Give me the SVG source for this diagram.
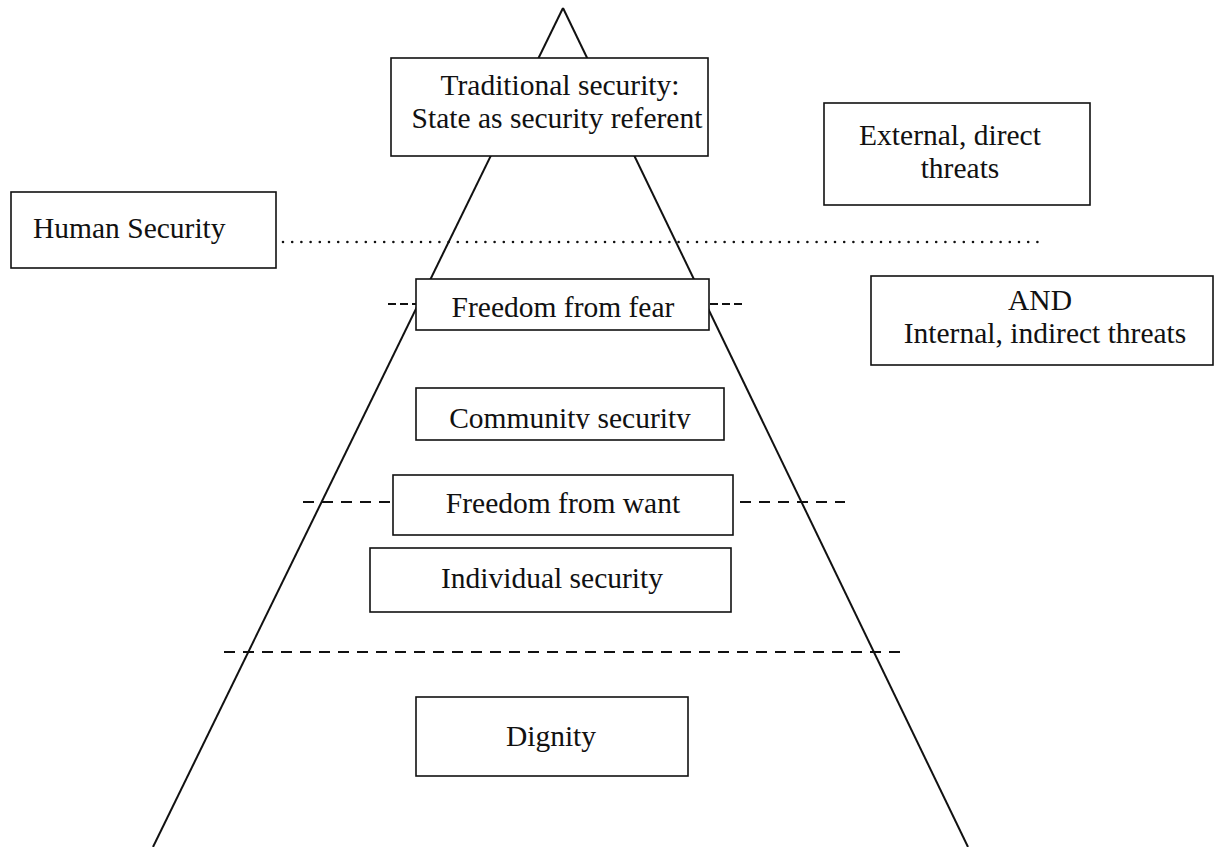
<svg xmlns="http://www.w3.org/2000/svg" width="1220" height="847" viewBox="0 0 1220 847">
<style>
.box{fill:#fff;stroke:#111;stroke-width:1.6}
.t{font-family:"Liberation Serif","Times New Roman",serif;font-size:29.5px;fill:#111}
.c{text-anchor:middle}
.side{stroke:#111;stroke-width:2;fill:none}
.dash{stroke:#111;stroke-width:2;stroke-dasharray:11 8;fill:none}
.dot{stroke:#111;stroke-width:2.6;stroke-dasharray:0 9.2;stroke-linecap:round;fill:none}
</style>
<defs>
<clipPath id="clipComm"><rect x="416" y="388" width="308" height="41"/></clipPath>
</defs>
<g id="connectors">
<line class="side" x1="563" y1="8" x2="153" y2="847"/>
<line class="side" x1="563" y1="8" x2="968" y2="847"/>
<line class="dot" x1="283" y1="242" x2="1040" y2="242"/>
<line class="dash" x1="388" y1="304" x2="416" y2="304" style="stroke-dasharray:8 4"/>
<line class="dash" x1="710" y1="304" x2="742" y2="304" style="stroke-dasharray:8 4"/>
<line class="dash" x1="303" y1="502" x2="392" y2="502"/>
<line class="dash" x1="740" y1="502" x2="845" y2="502"/>
<line class="dash" x1="224" y1="652" x2="900" y2="652"/>
</g>
<g id="traditional">
<rect class="box" x="391" y="58" width="317" height="98"/>
<text class="t c" x="560" y="95">Traditional security:</text>
<text class="t c" x="557" y="128">State as security referent</text>
</g>
<g id="external">
<rect class="box" x="824" y="103" width="266" height="102"/>
<text class="t c" x="950" y="145">External, direct</text>
<text class="t c" x="960" y="178">threats</text>
</g>
<g id="human">
<rect class="box" x="11" y="192" width="265" height="76"/>
<text class="t" x="33" y="238">Human Security</text>
</g>
<g id="fear">
<rect class="box" x="416" y="279" width="293" height="51"/>
<text class="t c" x="563" y="317">Freedom from fear</text>
</g>
<g id="internal">
<rect class="box" x="871" y="276" width="342" height="89"/>
<text class="t c" x="1040" y="310">AND</text>
<text class="t c" x="1045" y="343">Internal, indirect threats</text>
</g>
<g id="community">
<rect class="box" x="416" y="388" width="308" height="52"/>
<text class="t c" x="570" y="428" clip-path="url(#clipComm)">Community security</text>
</g>
<g id="want">
<rect class="box" x="393" y="475" width="340" height="60"/>
<text class="t c" x="563" y="513">Freedom from want</text>
</g>
<g id="individual">
<rect class="box" x="370" y="548" width="361" height="64"/>
<text class="t c" x="552" y="588">Individual security</text>
</g>
<g id="dignity">
<rect class="box" x="416" y="697" width="272" height="79"/>
<text class="t c" x="551" y="746">Dignity</text>
</g>
</svg>
